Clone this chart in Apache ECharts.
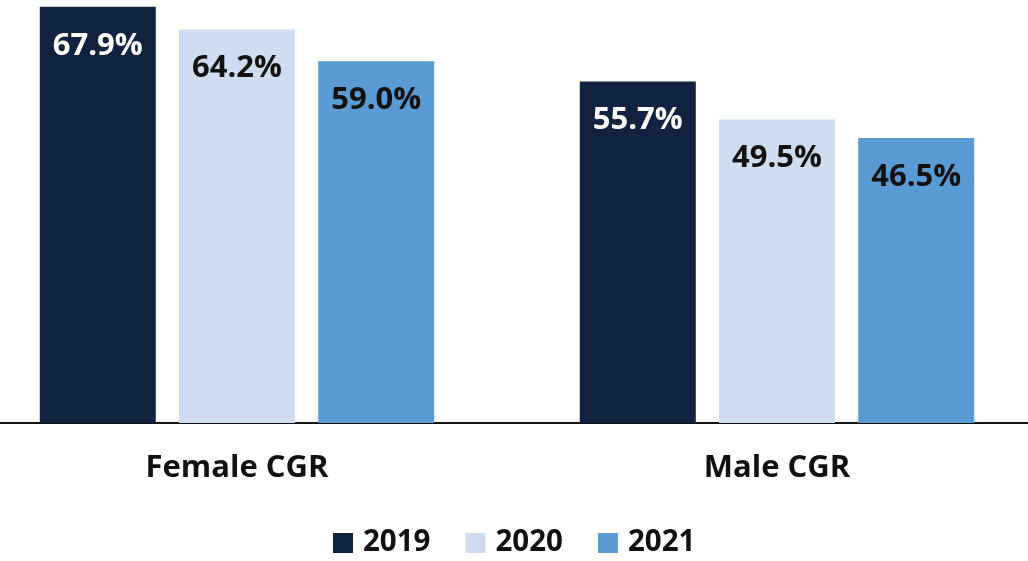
<!DOCTYPE html>
<html>
<head>
<meta charset="utf-8">
<script src="https://cdn.jsdelivr.net/npm/echarts@6/dist/echarts.min.js"></script>
<style>
  html, body { margin: 0; padding: 0; background: #fff; overflow: hidden; }
  #chart { width: 1080px; height: 561px; margin-left: -33px; }
</style>
</head>
<body>
<div id="chart"></div>
<script>
// CGR by sex, three years
const groups = ['Female CGR', 'Male CGR'];
const years = ['2019', '2020', '2021'];
const values2019 = [67.9, 55.7];
const values2020 = [64.2, 49.5];
const values2021 = [59.0, 46.5];

const colors = ['#12233F', '#CDDDEF', '#5B9BD4'];
const labelColors = ['#ffffff', '#111111', '#111111'];
const font = '"Open Sans", "DejaVu Sans", sans-serif';

function initChart() {
    const chartDom = document.getElementById('chart');
    const myChart = echarts.init(chartDom);

    const seriesData = [values2019, values2020, values2021];
    const series = years.map((year, i) => ({
        name: year,
        type: 'bar',
        data: seriesData[i],
        barWidth: 116,
        barGap: '20%',
        itemStyle: { color: colors[i] },
        label: {
            show: true,
            position: 'insideTop',
            distance: 24,
            formatter: p => p.value.toFixed(1) + '%',
            color: labelColors[i],
            fontFamily: font,
            fontWeight: 'bold',
            fontSize: 31,
            lineHeight: 30
        }
    }));

    const option = {
        animation: false,
        backgroundColor: '#ffffff',
        color: colors,
        grid: {
            left: 0,
            right: 0,
            top: 0,
            bottom: 138,
            containLabel: false
        },
        legend: {
            data: years,
            left: 33 + 328,
            top: 523,
            itemWidth: 20,
            itemHeight: 20,
            itemGap: 35,
            icon: 'rect',
            textStyle: {
                fontFamily: font,
                fontWeight: 'bold',
                fontSize: 29.5,
                lineHeight: 28,
                color: '#111111',
                padding: [0, 0, 0, 5]
            }
        },
        xAxis: {
            type: 'category',
            data: groups,
            axisLine: { show: true, lineStyle: { color: '#111111', width: 2 } },
            axisTick: { show: false },
            axisLabel: {
                margin: 30,
                fontFamily: font,
                fontWeight: 'bold',
                fontSize: 31,
                lineHeight: 30,
                color: '#111111'
            }
        },
        yAxis: {
            type: 'value',
            min: 0,
            max: 69,
            show: false,
            splitLine: { show: false }
        },
        series: series
    };

    myChart.setOption(option);
    return myChart;
}

initChart();
</script>
</body>
</html>
